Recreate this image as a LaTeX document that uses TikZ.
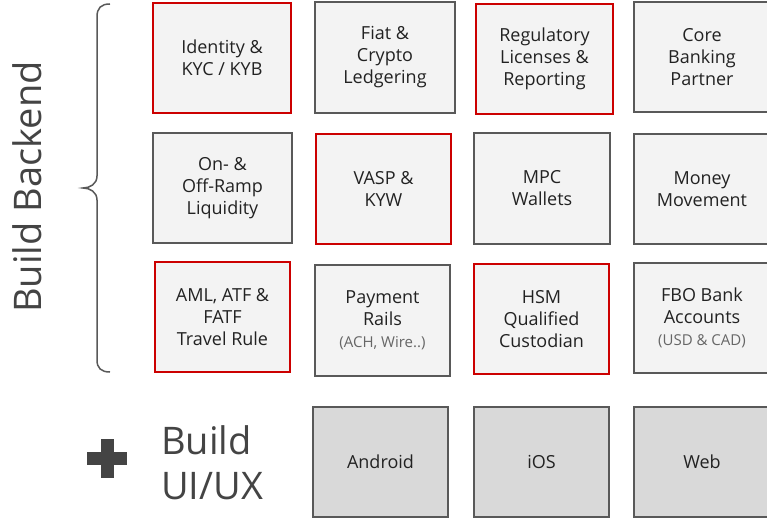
\documentclass[tikz,border=0pt]{standalone}
\usepackage{fontspec}
\setmainfont{Open Sans}
\definecolor{boxline}{HTML}{595959}
\definecolor{redline}{HTML}{CC0000}
\definecolor{boxfill}{HTML}{F3F3F3}
\definecolor{uifill}{HTML}{D9D9D9}
\definecolor{txt}{HTML}{222222}
\definecolor{bigtxt}{HTML}{444444}
\definecolor{subtxt}{HTML}{666666}
\newcommand{\subline}[1]{{\fontsize{15}{19}\selectfont\color{subtxt}#1}}
\begin{document}
\begin{tikzpicture}[x=1pt,y=-1pt,
  card/.style={draw=boxline, line width=2pt, fill=boxfill, text=txt, align=center,
    inner sep=0pt, font=\fontsize{18}{22}\selectfont},
  redcard/.style={card, draw=redline},
  uicard/.style={card, fill=uifill},
  sz/.style 2 args={minimum width=#1pt, minimum height=#2pt},
  big/.style={text=bigtxt, font=\fontsize{38}{45}\selectfont, inner sep=0pt}]
\useasboundingbox[fill=white] (0,0) rectangle (767,518);
% row 1
\node[redcard, sz={138}{110}] (idk) at (222,58) {Identity \&\\KYC / KYB};
\node[card, sz={140}{111}] (fiat) at (385,57.5) {Fiat \&\\Crypto\\Ledgering};
\node[redcard, sz={137}{110}] (reg) at (544.5,59) {Regulatory\\Licenses \&\\Reporting};
\node[card, sz={136}{110}] (core) at (702,57) {Core\\Banking\\Partner};
% row 2
\node[card, sz={139}{110}] (ramp) at (222.5,188) {On- \&\\Off-Ramp\\Liquidity};
\node[redcard, sz={135}{110}] (vasp) at (383.5,189) {VASP \&\\KYW};
\node[card, sz={136}{111}] (mpc) at (542,188.5) {MPC\\Wallets};
\node[card, sz={136}{110}] (money) at (702,189) {Money\\Movement};
% row 3
\node[redcard, sz={135}{110}] (aml) at (222.5,317) {AML, ATF \&\\FATF\\Travel Rule};
\node[card, sz={135}{111}] (pay) at (382.5,320.5) {Payment\\Rails\\\subline{(ACH, Wire..)}};
\node[redcard, sz={135}{110}] (hsm) at (541.5,319) {HSM\\Qualified\\Custodian};
\node[card, sz={136}{110}] (fbo) at (702,318) {FBO Bank\\Accounts\\\subline{(USD \& CAD)}};
% row 4
\node[uicard, sz={135}{110}] (android) at (380.5,462) {Android};
\node[uicard, sz={135}{110}] (ios) at (541.5,462) {iOS};
\node[uicard, sz={136}{110}] (web) at (702,462) {Web};
% brace
\draw[boxline, line width=1.5pt] (110,4) .. controls (101,4) and (97,8) .. (97,17) -- (97,176)
  .. controls (97,184) and (90,188) .. (83,188) .. controls (90,188) and (97,192) .. (97,200)
  -- (97,360) .. controls (97,368) and (101,372) .. (110,372);
% labels
\node[big, rotate=90] (backend) at (27.5,187) {Build Backend};
\fill[bigtxt] (87,452) rectangle (127,465);
\fill[bigtxt] (100.5,439) rectangle (113.5,478);
\node[big, align=left, anchor=base west] (uiux) at (161,499) {Build\\UI/UX};
\end{tikzpicture}
\end{document}
